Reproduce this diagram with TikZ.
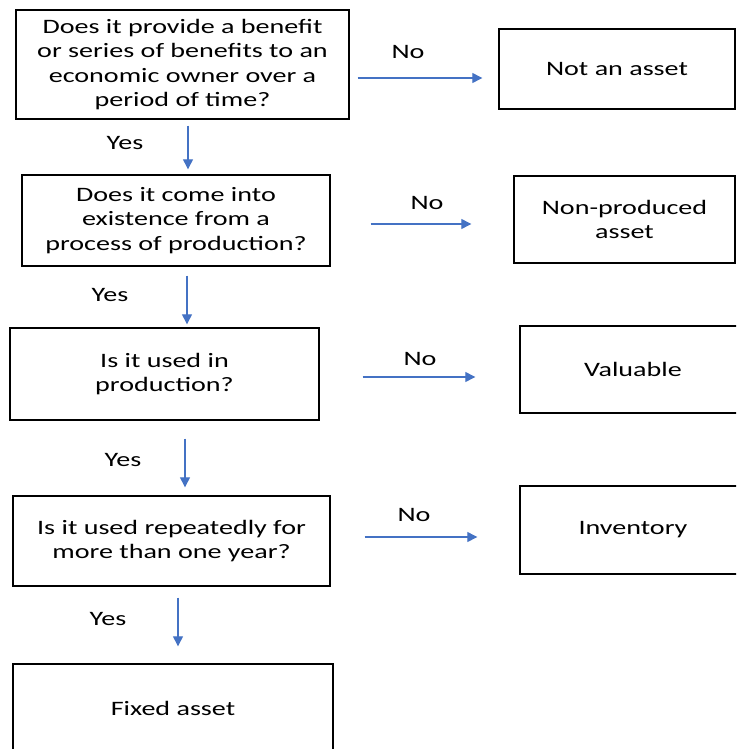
\documentclass[tikz,border=0pt]{standalone}
\usepackage{fontspec}
\setmainfont{Carlito}[FakeStretch=1.37]
\usetikzlibrary{arrows.meta}
\definecolor{flowblue}{HTML}{4472C4}
\tikzset{
  qbox/.style={draw=black, line width=1.4pt, align=center, inner sep=0pt,
    font=\fontsize{20.5}{24.3}\selectfont},
  flow/.style={draw=flowblue, line width=1.3pt,
    -{Triangle[length=10pt,width=10pt]}},
  lbl/.style={font=\fontsize{20.5}{24.3}\selectfont, inner sep=0pt},
}
\begin{document}
\begin{tikzpicture}[x=1pt,y=-1pt]
\useasboundingbox (0,0) rectangle (736,749);
\begin{scope}
\clip (0,0) rectangle (736,749);
% question column
\node[qbox, minimum width=333pt, minimum height=109pt] (q1) at (182.5,64.5)
  {Does it provide a benefit\\or series of benefits to an\\economic owner over a\\period of time?};
\node[qbox, minimum width=308pt, minimum height=91pt] (q2) at (176,220.5)
  {Does it come into\\existence from a\\process of production?};
\node[qbox, minimum width=309pt, minimum height=92pt] (q3) at (164.5,374)
  {Is it used in\\production?};
\node[qbox, minimum width=317pt, minimum height=90pt] (q4) at (171.5,541)
  {Is it used repeatedly for\\more than one year?};
\node[qbox, minimum width=320pt, minimum height=88pt] (fa) at (173,708)
  {Fixed asset};
% outcome column
\node[qbox, minimum width=236pt, minimum height=80pt] (na) at (617,69)
  {Not an asset};
\node[qbox, minimum width=221pt, minimum height=87pt] (np) at (624.5,219.5)
  {Non-produced\\asset};
\node[qbox, minimum width=226pt, minimum height=87pt] (val) at (633,369.5)
  {Valuable};
\node[qbox, minimum width=226pt, minimum height=88pt] (inv) at (633,530)
  {Inventory};
\end{scope}
% "No" branches
\draw[flow, shorten <=8pt, shorten >=16pt]
  ([yshift=-13.5pt]q1.east) -- ([yshift=-13.5pt]q1.east -| na.west);
\draw[flow, shorten <=40pt, shorten >=42pt]
  ([yshift=-3.5pt]q2.east) -- ([yshift=-3.5pt]q2.east -| np.west);
\draw[flow, shorten <=43pt, shorten >=44pt]
  ([yshift=-3pt]q3.east) -- ([yshift=-3pt]q3.east -| val.west);
\draw[flow, shorten <=34pt, shorten >=42pt]
  ([yshift=4pt]q4.east) -- ([yshift=4pt]q4.east -| inv.west);
% "Yes" branches
\draw[flow, shorten <=6pt, shorten >=5pt]
  ([xshift=5.5pt]q1.south) -- ([xshift=5.5pt]q1.south |- q2.north);
\draw[flow, shorten <=9pt, shorten >=3pt]
  ([xshift=11pt]q2.south) -- ([xshift=11pt]q2.south |- q3.north);
\draw[flow, shorten <=18pt, shorten >=8pt]
  ([xshift=20.5pt]q3.south) -- ([xshift=20.5pt]q3.south |- q4.north);
\draw[flow, shorten <=11pt, shorten >=17pt]
  ([xshift=6.5pt]q4.south) -- ([xshift=6.5pt]q4.south |- fa.north);
% branch labels
\node[lbl] (no1) at (408,52) {No};
\node[lbl] (no2) at (427,203) {No};
\node[lbl] (no3) at (420,359) {No};
\node[lbl] (no4) at (414,515) {No};
\node[lbl] (yes1) at (125,143) {Yes};
\node[lbl] (yes2) at (110,295) {Yes};
\node[lbl] (yes3) at (123,460) {Yes};
\node[lbl] (yes4) at (108,619) {Yes};
\end{tikzpicture}
\end{document}
